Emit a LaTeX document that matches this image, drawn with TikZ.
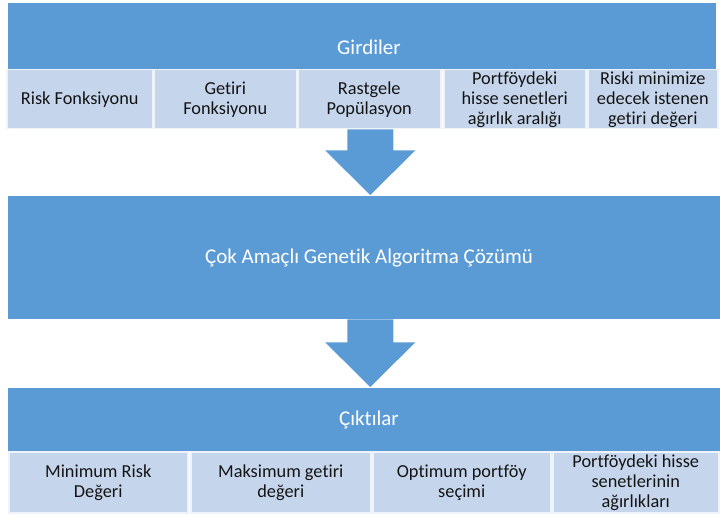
\documentclass[tikz,border=0pt]{standalone}
\usepackage{fontspec}
\setmainfont{Carlito}[Ligatures={NoCommon,NoRare,NoContextual}]
\usetikzlibrary{calc}
\definecolor{bandblue}{HTML}{5B9BD5}
\definecolor{cellblue}{HTML}{C5D6EC}
\definecolor{celltext}{HTML}{141414}
\begin{document}
\begin{tikzpicture}[x=1pt,y=-1pt,
  band/.style={fill=bandblue, draw=none, inner sep=0pt, anchor=north west},
  title/.style={text=white, font=\fontsize{21}{25}\selectfont, inner sep=0pt},
  cell/.style={fill=cellblue, draw=white!70!cellblue, line width=1.5pt, inner sep=0pt,
    anchor=north west, align=center, text=celltext,
    font=\fontsize{18.3}{20}\selectfont},
  toprow/.style={cell, minimum height=59pt},
  botrow/.style={cell, minimum height=61pt},
  blockarrow/.style={fill=bandblue, draw=none}]
\useasboundingbox (0,0) rectangle (720,516);

% Inputs
\node[band, minimum width=708pt, minimum height=66pt] (inband) at (8,3) {};
\node[title] (intitle) at (369,47) {Girdiler};
\node[toprow, minimum width=146pt] (i1) at (6,69) {Risk Fonksiyonu};
\node[toprow, minimum width=143pt] (i2) at (153,69) {Getiri\\Fonksiyonu};
\node[toprow, minimum width=143pt] (i3) at (297,69) {Rastgele\\Popülasyon};
\node[toprow, minimum width=142pt] (i4) at (443,69) {Portföydeki\\hisse senetleri\\ağırlık aralığı};
\node[toprow, minimum width=130pt] (i5) at (587,69) {Riski minimize\\edecek istenen\\getiri değeri};

% Middle
\node[band, minimum width=712pt, minimum height=123pt] (mid) at (8,196) {};
\node[title] (midtitle) at (369,258) {Çok Amaçlı Genetik Algoritma Çözümü};

% Outputs
\node[band, minimum width=712pt, minimum height=63pt] (outband) at (8,388) {};
\node[title] (outtitle) at (369,420) {Çıktılar};
\node[botrow, minimum width=179pt] (o1) at (8,451) {Minimum Risk\\Değeri};
\node[botrow, minimum width=180pt] (o2) at (190,451) {Maksimum getiri\\değeri};
\node[botrow, minimum width=178pt] (o3) at (372,451) {Optimum portföy\\seçimi};
\node[botrow, minimum width=166pt] (o4) at (552,451) {Portföydeki hisse\\senetlerinin\\ağırlıkları};

% Block arrows
\fill[blockarrow] let \p1=(i3.south), \p2=(mid.north) in
  (\x1-22pt,\y1) -- (\x1+24pt,\y1) -- (\x1+24pt,\y1-21pt) -- (\x1+46pt,\y1-21pt)
  -- (\x1+1pt,\y2+1pt) -- (\x1-44pt,\y1-21pt) -- (\x1-22pt,\y1-21pt) -- cycle;
\fill[blockarrow] let \p1=(i3.south), \p2=(mid.south), \p3=(outband.north) in
  (\x1-22pt,\y2) -- (\x1+24pt,\y2) -- (\x1+24pt,\y2-23pt) -- (\x1+46pt,\y2-23pt)
  -- (\x1+1pt,\y3+1pt) -- (\x1-44pt,\y2-23pt) -- (\x1-22pt,\y2-23pt) -- cycle;
\end{tikzpicture}
\end{document}
